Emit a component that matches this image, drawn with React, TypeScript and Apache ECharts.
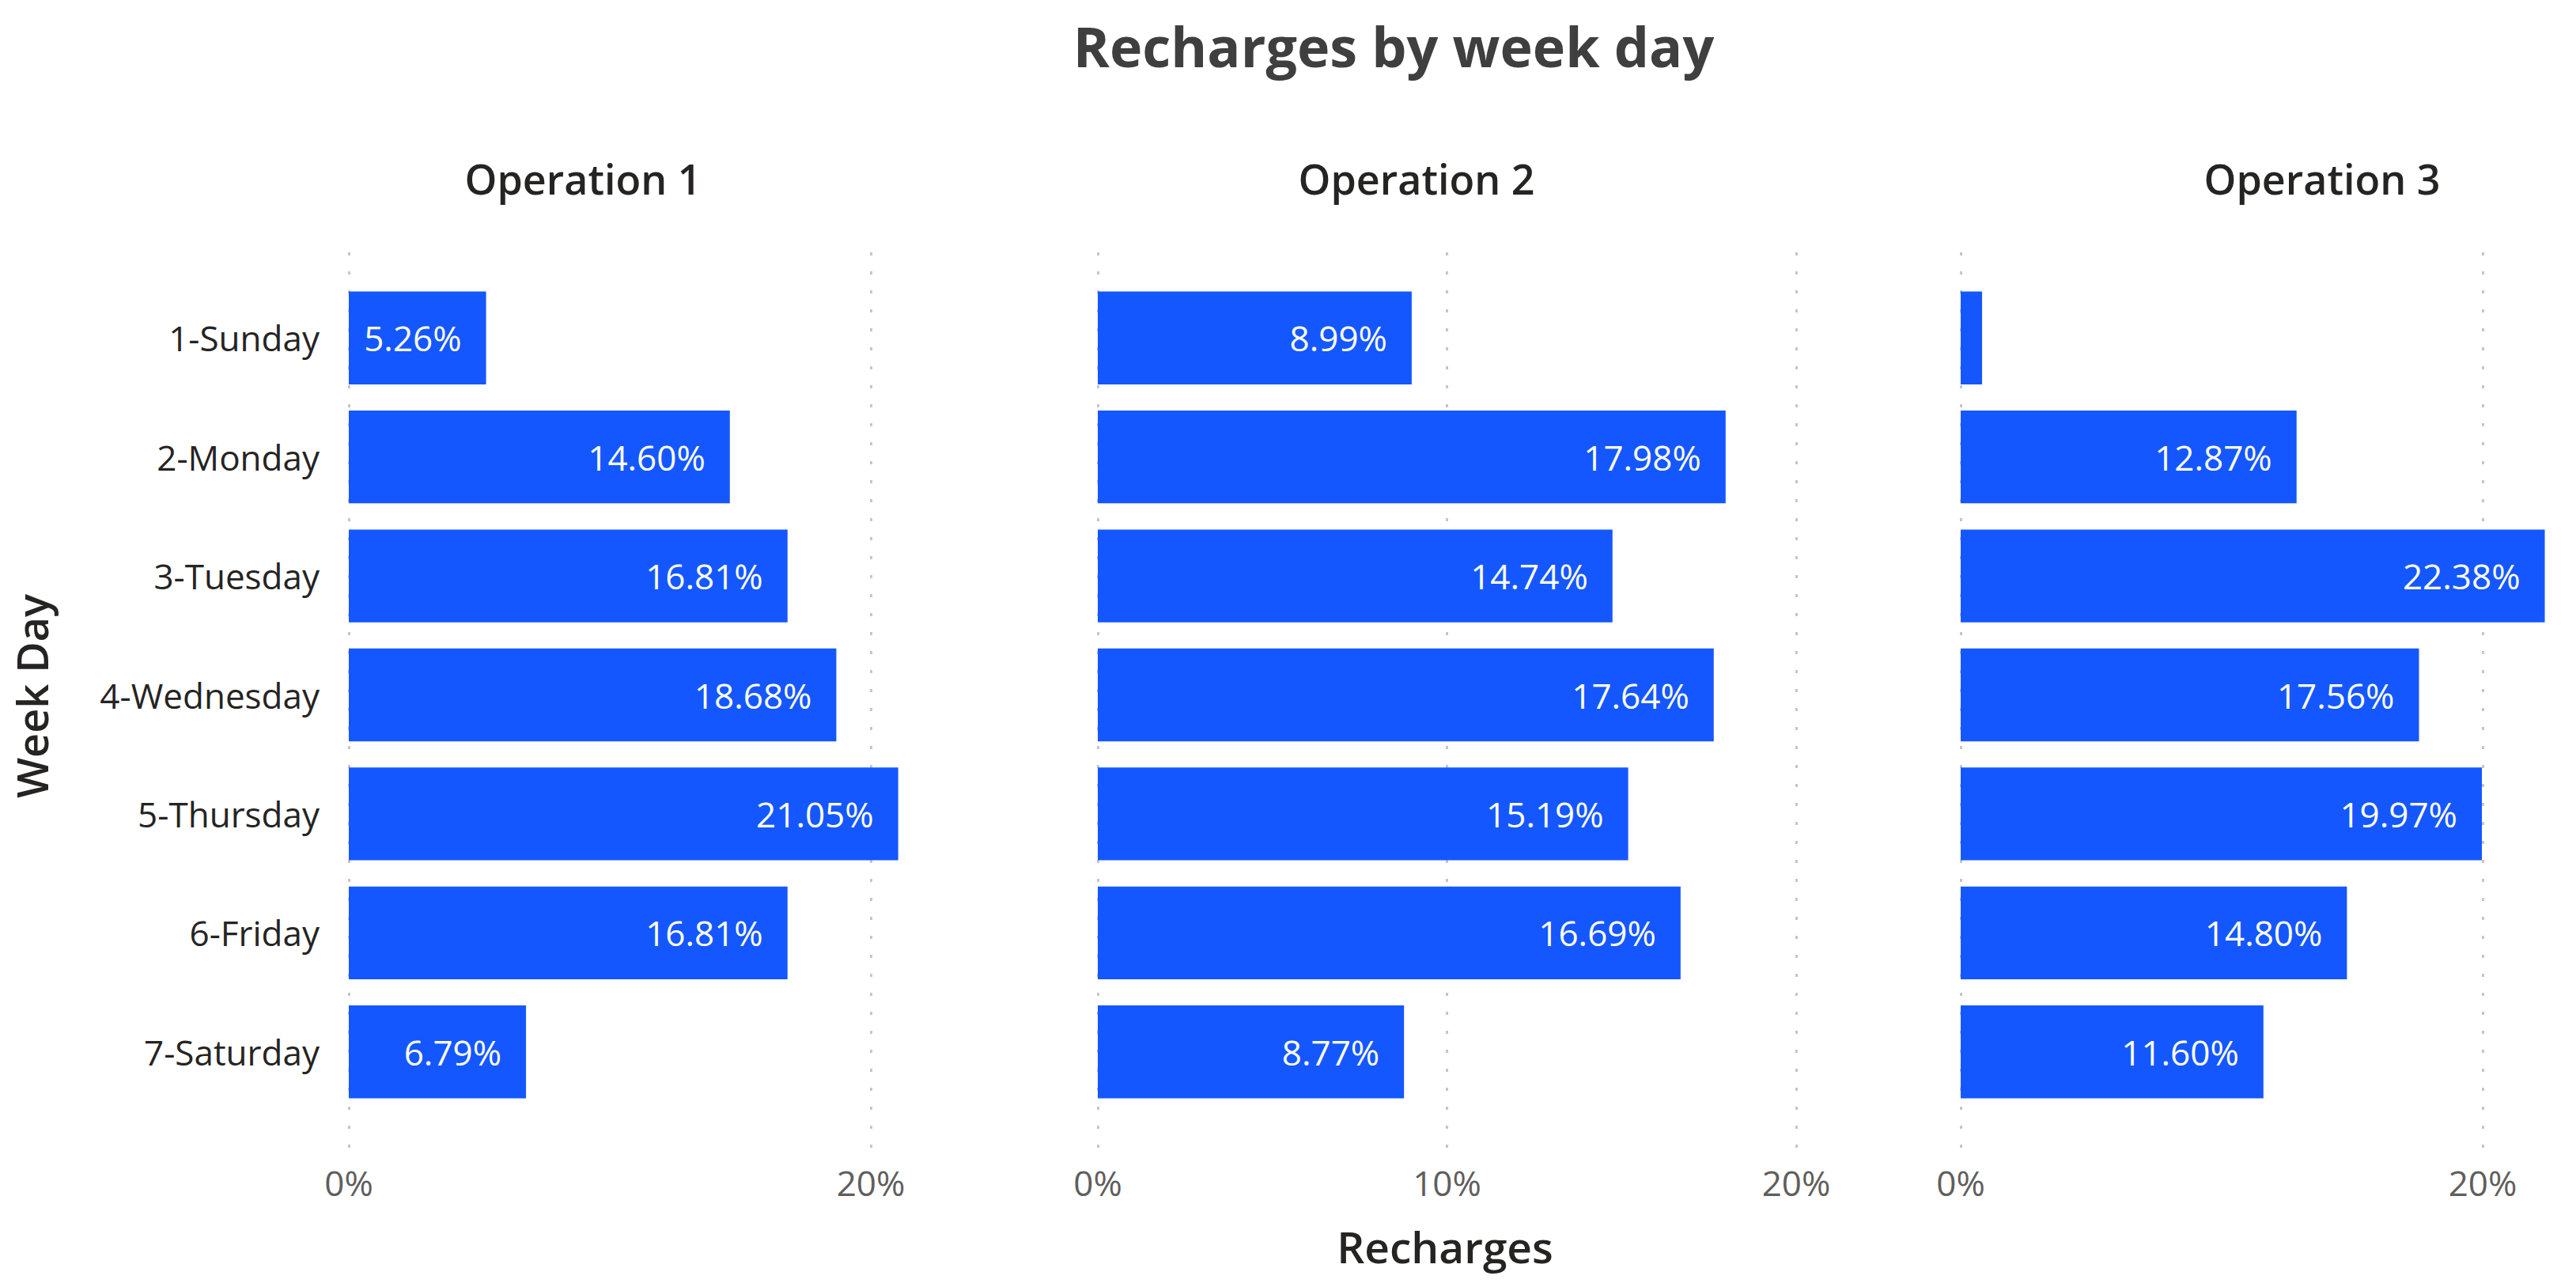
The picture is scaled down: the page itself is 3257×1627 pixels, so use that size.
import React, { useEffect, useRef } from "react";
import * as echarts from "echarts";

const categories = ["1-Sunday", "2-Monday", "3-Tuesday", "4-Wednesday", "5-Thursday", "6-Friday", "7-Saturday"];
const operations = ["Operation 1", "Operation 2", "Operation 3"];
const op1 = [5.26, 14.6, 16.81, 18.68, 21.05, 16.81, 6.79];
const op2 = [8.99, 17.98, 14.74, 17.64, 15.19, 16.69, 8.77];
const op3 = [0.82, 12.87, 22.38, 17.56, 19.97, 14.8, 11.6];
const seriesValues = [op1, op2, op3];
const tickValues = [[0, 20], [0, 10, 20], [0, 20]];
const axisMax = [22, 21, 23];

const chartTitle = "Recharges by week day";
const xTitle = "Recharges";
const yTitle = "Week Day";

// layout
const W = 3257;
const H = 1627;
const panelLeft = [441, 1388, 2479];
const pxPerPct = [33.0, 44.15, 33.0];
const panelTitleX = [737, 1791, 2936];
const barTop = 352;
const barHeight = 1053;
const lineTop = 310;
const lineHeight = 1141;
const FONT = "'Open Sans', 'Noto Sans', sans-serif";
const BAR_COLOR = "#1557FF";

export default function App() {
  const ref = useRef<HTMLDivElement>(null);
  useEffect(() => {
    document.body.style.margin = "0";
    if (!ref.current) return;
    const chart = echarts.init(ref.current, undefined, { renderer: "svg" });

    const grids: any[] = [];
    const xAxes: any[] = [];
    const yAxes: any[] = [];
    const series: any[] = [];

    for (let i = 0; i < 3; i++) {
      const width = axisMax[i] * pxPerPct[i];
      grids.push({ left: panelLeft[i], top: barTop, width, height: barHeight, outerBoundsMode: "none", containLabel: false, z: 2 });
    }
    for (let i = 0; i < 3; i++) {
      const width = axisMax[i] * pxPerPct[i];
      grids.push({ left: panelLeft[i], top: lineTop, width, height: lineHeight, outerBoundsMode: "none", containLabel: false, z: 0 });
    }

    for (let i = 0; i < 3; i++) {
      xAxes.push({ type: "value", gridIndex: i, min: 0, max: axisMax[i], show: false });
      yAxes.push({
        type: "category",
        gridIndex: i,
        data: categories,
        inverse: true,
        axisLine: { show: false },
        axisTick: { show: false },
        splitLine: { show: false },
        axisLabel: {
          show: i === 0,
          fontSize: 44,
          fontFamily: FONT,
          color: "#252423",
          margin: 37,
        },
      });
      series.push({
        type: "bar",
        xAxisIndex: i,
        yAxisIndex: i,
        barCategoryGap: "22%",
        z: 10,
        itemStyle: { color: BAR_COLOR },
        label: {
          show: true,
          position: "insideRight",
          distance: 31,
          color: "#ffffff",
          fontSize: 44,
          fontFamily: FONT,
          formatter: (p: any) => Number(p.value).toFixed(2) + "%",
        },
        data: seriesValues[i].map((v) => ({ value: v, label: { show: v >= 3 } })),
      });
    }

    for (let i = 0; i < 3; i++) {
      xAxes.push({
        type: "value",
        gridIndex: 3 + i,
        min: 0,
        max: axisMax[i],
        axisLine: { show: false },
        axisTick: { show: false },
        splitLine: { show: false },
        axisLabel: {
          customValues: tickValues[i],
          formatter: "{value}%",
          fontSize: 44,
          fontFamily: FONT,
          color: "#605E5C",
          margin: 22,
          showMinLabel: true,
          showMaxLabel: true,
        },
      });
      yAxes.push({ type: "value", gridIndex: 3 + i, min: 0, max: 1, show: false });
      series.push({
        type: "scatter",
        xAxisIndex: 3 + i,
        yAxisIndex: 3 + i,
        data: [],
        symbolSize: 0,
        silent: true,
        z: 0,
        markLine: {
          z: 0,
          silent: true,
          symbol: ["none", "none"],
          label: { show: false },
          emphasis: { disabled: true },
          lineStyle: { type: [4, 20], width: 3, color: "#C8C6C4", cap: "butt" },
          data: tickValues[i].map((t) => ({ xAxis: t })),
        },
      });
    }

    const graphic: any[] = [
      {
        type: "text",
        x: 1762,
        y: 58,
        style: {
          text: chartTitle,
          fontSize: 70,
          fontWeight: "bold",
          fontFamily: FONT,
          fill: "#3F3F3F",
          align: "center",
          verticalAlign: "middle",
        },
      },
      ...operations.map((op, i) => ({
        type: "text",
        x: panelTitleX[i],
        y: 225,
        style: {
          text: op,
          fontSize: 52,
          fontWeight: 600,
          fontFamily: FONT,
          fill: "#252423",
          align: "center",
          verticalAlign: "middle",
        },
      })),
      {
        type: "text",
        x: 1827,
        y: 1575,
        style: {
          text: xTitle,
          fontSize: 55,
          fontWeight: 600,
          fontFamily: FONT,
          fill: "#252423",
          align: "center",
          verticalAlign: "middle",
        },
      },
      {
        type: "text",
        x: 40,
        y: 880,
        rotation: Math.PI / 2,
        style: {
          text: yTitle,
          fontSize: 54,
          fontWeight: 600,
          fontFamily: FONT,
          fill: "#252423",
          align: "center",
          verticalAlign: "middle",
        },
      },
    ];

    chart.setOption({
      animation: false,
      backgroundColor: "#ffffff",
      grid: grids,
      xAxis: xAxes,
      yAxis: yAxes,
      series,
      graphic,
    });
    return () => chart.dispose();
  }, []);
  return <div ref={ref} style={{ width: W, height: H }} />;
}
